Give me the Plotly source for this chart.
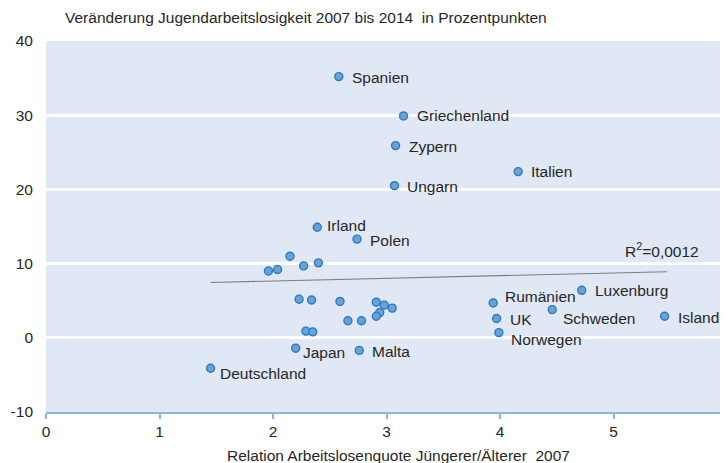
import plotly.graph_objects as go

# --- Data -----------------------------------------------------------------
labeled_names = ["Spanien", "Griechenland", "Zypern", "Italien", "Ungarn",
                 "Irland", "Polen", "Rumänien", "Luxenburg", "UK", "Schweden",
                 "Island", "Norwegen", "Japan", "Malta", "Deutschland"]
labeled_x = [2.58, 3.15, 3.08, 4.16, 3.07, 2.39, 2.74, 3.94, 4.72, 3.97, 4.46,
             5.45, 3.99, 2.20, 2.76, 1.45]
labeled_y = [35.2, 29.9, 25.9, 22.4, 20.5, 14.9, 13.3, 4.7, 6.4, 2.6, 3.8,
             2.9, 0.7, -1.4, -1.7, -4.1]

other_x = [2.15, 1.96, 2.04, 2.27, 2.40, 2.23, 2.34, 2.59, 2.91, 2.98, 3.05,
           2.94, 2.91, 2.66, 2.78, 2.29, 2.35]
other_y = [11.0, 9.0, 9.2, 9.7, 10.1, 5.2, 5.1, 4.9, 4.8, 4.4, 4.0,
           3.4, 2.9, 2.3, 2.3, 0.9, 0.8]

trend_x = [1.45, 5.47]
trend_y = [7.45, 8.9]
r2_text = "R<sup>2</sup>=0,0012"

x_ticks = [0, 1, 2, 3, 4, 5, 6]
y_ticks = [-10, 0, 10, 20, 30, 40]

title_text = "Veränderung Jugendarbeitslosigkeit 2007 bis 2014  in Prozentpunkten"
xaxis_title = "Relation Arbeitslosenquote Jüngerer/Älterer  2007"

# --- Styling (label offsets in pixels) ------------------------------------
label_offsets = {
    "Spanien": (11, 1), "Griechenland": (11, 0), "Zypern": (11, 1),
    "Italien": (11, 0), "Ungarn": (11, 1), "Irland": (8, -2),
    "Polen": (11, 1), "Rumänien": (10, -6), "Luxenburg": (11, 0),
    "UK": (11, 1), "Schweden": (9, 9), "Island": (11, 1),
    "Norwegen": (10, 7), "Japan": (5, 4), "Malta": (11, 1),
    "Deutschland": (7, 5),
}

FONT = "Liberation Sans, Arial, sans-serif"
TXT = "#262626"
FS = 15.5
marker_style = dict(size=8, color="#6aa2d8", line=dict(color="#2b7bc0", width=1.4))

fig = go.Figure()

fig.add_trace(go.Scatter(x=trend_x, y=trend_y, mode="lines",
                         line=dict(color="#7f7f7f", width=1.2),
                         hoverinfo="skip", showlegend=False))
fig.add_trace(go.Scatter(x=other_x, y=other_y, mode="markers",
                         marker=marker_style, showlegend=False))
fig.add_trace(go.Scatter(x=labeled_x, y=labeled_y, mode="markers",
                         marker=marker_style, text=labeled_names,
                         showlegend=False))

annotations = []
for n, x, y in zip(labeled_names, labeled_x, labeled_y):
    dx, dy = label_offsets[n]
    annotations.append(dict(x=x, y=y, xref="x", yref="y", text=n,
                            showarrow=False, xanchor="left", yanchor="middle",
                            xshift=dx, yshift=-dy,
                            font=dict(family=FONT, size=FS, color=TXT)))

annotations.append(dict(x=5.08, y=11.8, xref="x", yref="y", text=r2_text,
                        showarrow=False, xanchor="left", yanchor="middle",
                        font=dict(family=FONT, size=FS, color=TXT)))
annotations.append(dict(x=0.025, y=1.062, xref="paper", yref="paper",
                        text=title_text, showarrow=False, xanchor="left",
                        yanchor="middle",
                        font=dict(family=FONT, size=FS, color=TXT)))
annotations.append(dict(x=0.518, y=-0.116, xref="paper", yref="paper",
                        text=xaxis_title, showarrow=False, xanchor="center",
                        yanchor="middle",
                        font=dict(family=FONT, size=FS, color=TXT)))
# last x tick label sits on the figure edge (partly cut off, as in the original)
annotations.append(dict(x=x_ticks[-1], y=0, xref="x", yref="paper",
                        text=str(x_ticks[-1]), showarrow=False,
                        xanchor="center", yanchor="top", yshift=-6,
                        font=dict(family=FONT, size=FS, color=TXT)))

fig.update_layout(
    width=720, height=455,
    margin=dict(l=38, r=1, t=33, b=51),
    paper_bgcolor="white",
    plot_bgcolor="#e0e8f5",
    font=dict(family=FONT, size=FS, color=TXT),
    annotations=annotations,
    xaxis=dict(range=[0, 6], tickvals=x_ticks, ticktext=[str(v) for v in x_ticks],
               showgrid=False, zeroline=False, showline=True,
               linecolor="#8db4e2", linewidth=1.5, ticks="outside",
               tickcolor="#8db4e2", ticklen=5, tickwidth=1.5,
               tickfont=dict(family=FONT, size=FS, color=TXT)),
    yaxis=dict(range=[-10, 40], tickvals=y_ticks, ticktext=[str(v) for v in y_ticks],
               showgrid=True, gridcolor="white", gridwidth=3,
               zeroline=False, showline=False, ticks="", ticklabelstandoff=12,
               tickfont=dict(family=FONT, size=FS, color=TXT)),
)

fig.write_html("out.html")
